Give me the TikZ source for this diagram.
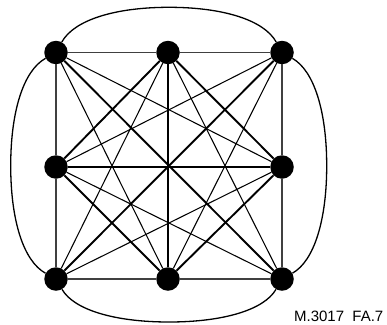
\documentclass[tikz,border=0pt]{standalone}
\usepackage{fontspec}
\setmainfont{Liberation Sans}
\begin{document}
\begin{tikzpicture}[x=1pt,y=-1pt,
  vertex/.style={circle,fill=black,draw=none,minimum size=23.5pt,inner sep=0pt},
  side/.style={line width=1.1pt,black!75},
  heavy/.style={line width=1.9pt},
  light/.style={line width=1.05pt},
  mid/.style={line width=1.4pt},
  arcline/.style={line width=1.3pt},
  caption/.style={font=\fontsize{15}{17}\selectfont,anchor=base east,inner sep=0pt}]
\useasboundingbox (0,0) rectangle (387,324);
\node[vertex] (tl) at (56,52.5) {};
\node[vertex] (tm) at (168,52.5) {};
\node[vertex] (tr) at (282,52.5) {};
\node[vertex] (ml) at (56,167) {};
\node[vertex] (mr) at (282,167) {};
\node[vertex] (bl) at (56,279) {};
\node[vertex] (bm) at (168,279) {};
\node[vertex] (br) at (282,279) {};
\coordinate (atop) at (169,7.3);
\coordinate (abot) at (169,322);
\coordinate (aleft) at (10.7,165.8);
\coordinate (aright) at (326.7,165.8);
% square sides
\draw[side] (tl) -- (tm);
\draw[side] (tm) -- (tr);
\draw[side] (bl) -- (bm);
\draw[side] (bm) -- (br);
\draw[side] (tl) -- (ml);
\draw[side] (ml) -- (bl);
\draw[side] (tr) -- (mr);
\draw[side] (mr) -- (br);
% heavy lines
\draw[heavy] (tl) -- (br);
\draw[heavy] (tr) -- (bl);
\draw[heavy] (tm) -- (bm);
\draw[heavy] (tm) -- (ml);
\draw[heavy] (tm) -- (mr);
\draw[heavy] (bm) -- (ml);
\draw[heavy] (bm) -- (mr);
\draw[mid] (ml) -- (mr);
% light lines
\draw[light] (tl) -- (mr);
\draw[light] (tl) -- (bm);
\draw[light] (tr) -- (ml);
\draw[light] (tr) -- (bm);
\draw[light] (bl) -- (tm);
\draw[light] (bl) -- (mr);
\draw[light] (br) -- (tm);
\draw[light] (br) -- (ml);
% outer arcs
\draw[arcline] (tl) .. controls (74,20) and (115,7.3) .. (atop)
  .. controls (223,7.3) and (264,20) .. (tr);
\draw[arcline] (bl) .. controls (74,310) and (115,322) .. (abot)
  .. controls (223,322) and (264,310) .. (br);
\draw[arcline] (tl) .. controls (23.3,70.7) and (10.7,111.7) .. (aleft)
  .. controls (10.7,220) and (23.3,261) .. (bl);
\draw[arcline] (tr) .. controls (314.2,70.7) and (326.7,111.7) .. (aright)
  .. controls (326.7,220) and (314.2,261) .. (br);
\node[caption] (cap) at (383.5,321.3) {M.3017\ \ FA.7};
\end{tikzpicture}
\end{document}
